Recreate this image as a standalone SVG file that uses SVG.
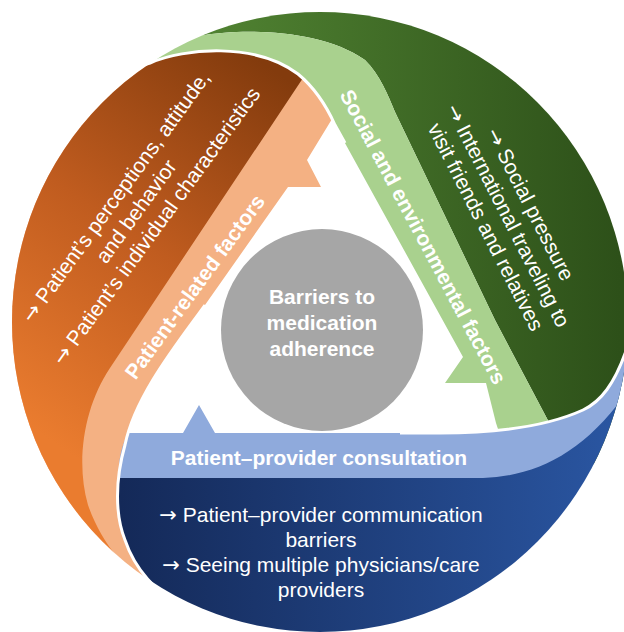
<svg xmlns="http://www.w3.org/2000/svg" width="624" height="632" viewBox="0 0 624 632">
<defs>
<clipPath id="disc"><ellipse cx="320" cy="322" rx="308" ry="310"/></clipPath>
<linearGradient id="gOrange" gradientUnits="userSpaceOnUse" x1="50" y1="440" x2="295" y2="85">
<stop offset="0" stop-color="#ea7c2f"/><stop offset="0.5" stop-color="#c05c1f"/><stop offset="1" stop-color="#833b0d"/>
</linearGradient>
<linearGradient id="gGreen" gradientUnits="userSpaceOnUse" x1="220" y1="0" x2="620" y2="0">
<stop offset="0" stop-color="#4f8131"/><stop offset="1" stop-color="#2d5019"/>
</linearGradient>
<linearGradient id="gBlue" gradientUnits="userSpaceOnUse" x1="120" y1="0" x2="620" y2="0">
<stop offset="0" stop-color="#142958"/><stop offset="1" stop-color="#2a56a2"/>
</linearGradient>
<style>
.lbl{font-family:"Liberation Sans",Arial,Helvetica,sans-serif;font-weight:bold;font-size:21px;fill:#fff;text-anchor:middle}
.txt{font-family:"Liberation Sans",Arial,Helvetica,sans-serif;font-size:21px;fill:#fff;text-anchor:middle}
.arw{font-family:"DejaVu Sans",sans-serif}
.gap{fill:none;stroke:#fff;stroke-width:3}
</style>
</defs>

<g id="social">
<g clip-path="url(#disc)">
<path fill="url(#gGreen)" d="M180,-10 L180,30 L205,35 C240,29 320,28 365,60 C380,75 388,95 395,112 L495,320 L552,428 L600,470 L645,470 L645,-10 Z"/>
<path fill="#a9d18e" d="M100,-10 L100,55 L120,72 L150,63 C185,48 255,42 298,74 C315,88 326,105 335,125 L463,357 L445,383 L486,383 L496,423 L505,450 L570,450 L552,428 L495,320 L395,112 C388,95 380,75 365,60 C320,28 240,29 205,35 L180,30 L180,-10 Z"/>
</g>
<text class="lbl" transform="translate(423,237) rotate(62)" y="7">Social and environmental factors</text>
<text class="txt" transform="translate(507,216) rotate(63)"><tspan x="0" y="-19"><tspan class="arw">→</tspan> Social pressure</tspan><tspan x="0" y="6"><tspan class="arw">→</tspan> International traveling to</tspan><tspan x="0" y="31">visit friends and relatives</tspan></text>
</g>

<g id="patient">
<g clip-path="url(#disc)">
<path fill="#f4b183" d="M288,187 L321,187 L307,160 L332,119 C326,105 315,88 298,74 C255,42 185,48 150,63 L120,72 L100,55 L-10,55 L-10,645 L195,645 L185,612 C155,590 135,570 125,540 C115,515 115,480 125,445 C135,395 180,340 205,305 Z"/>
<path fill="url(#gOrange)" d="M-10,55 L100,55 L120,72 L150,63 C185,48 255,42 298,74 L303,78 L110,368 C85,405 75,460 88,505 C95,525 105,542 117,557 L100,580 L-10,580 Z"/>
</g>
<text class="lbl" transform="translate(195,287) rotate(-54)" y="7">Patient-related factors</text>
<text class="txt" transform="translate(137,212) rotate(-54)"><tspan x="0" y="-19"><tspan class="arw">→</tspan> Patient’s perceptions, attitude,</tspan><tspan x="0" y="6">and behavior</tspan><tspan x="0" y="31"><tspan class="arw">→</tspan> Patient’s individual characteristics</tspan></text>
</g>

<g id="consultation">
<g clip-path="url(#disc)">
<path fill="url(#gBlue)" d="M125,445 C115,480 115,515 125,540 C135,570 155,590 185,612 L195,645 L645,645 L645,345 L628,345 C615,385 600,402 583,410 C550,425 500,433 440,433 L130,433 Z"/>
<path fill="#8faadc" d="M128,433 L183,433 L199,405 L215,433 L440,433 C500,433 550,425 583,410 C600,402 615,385 628,345 L645,345 L645,380 L635,380 C590,450 540,476 483,478 L119,478 C118,462 121,447 128,433 Z"/>
</g>
<text class="lbl" x="319" y="465">Patient–provider consultation</text>
<text class="txt"><tspan x="321" y="522"><tspan class="arw">→</tspan> Patient–provider communication</tspan><tspan x="321" y="547">barriers</tspan><tspan x="321" y="572"><tspan class="arw">→</tspan> Seeing multiple physicians/care</tspan><tspan x="321" y="597">providers</tspan></text>
</g>

<g id="connectors" class="gap">
<path d="M120,72 L150,63 C185,48 255,42 298,74 C315,88 326,105 335,125 L345,143"/>
<path d="M400,433 L440,433 C500,433 550,425 583,410 C600,402 615,385 628,345 L640,310"/>
<path d="M205,305 C180,340 135,395 125,445 C115,480 115,515 125,540 C135,570 155,590 185,612 L200,640"/>
</g>

<g id="center">
<circle cx="322" cy="330" r="101" fill="#a6a6a6"/>
<text class="lbl"><tspan x="322" y="304">Barriers to</tspan><tspan x="322" y="330">medication</tspan><tspan x="322" y="356">adherence</tspan></text>
</g>
</svg>
